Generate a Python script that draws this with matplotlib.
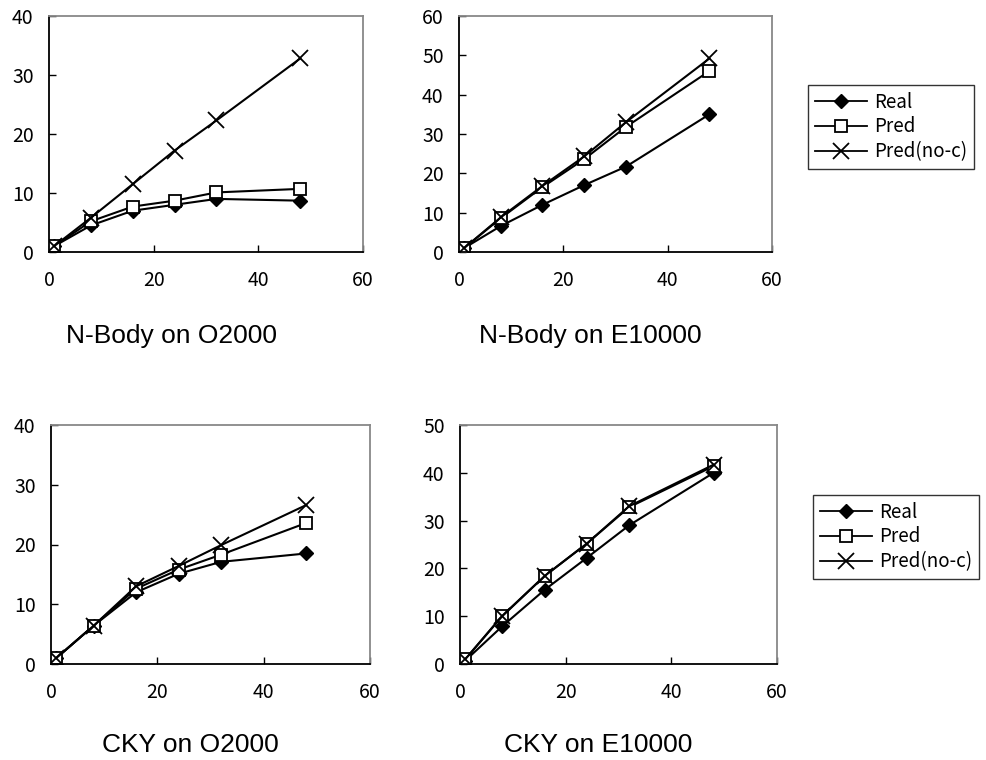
import matplotlib
matplotlib.use("Agg")
import matplotlib.pyplot as plt
from matplotlib.lines import Line2D

procs = [1, 8, 16, 24, 32, 48]

nbody_o2000_real = [1, 4.5, 7.0, 8.0, 9.0, 8.7]
nbody_o2000_pred = [1, 5.2, 7.7, 8.7, 10.1, 10.7]
nbody_o2000_noc = [1, 5.8, 11.5, 17.2, 22.3, 32.8]

nbody_e10000_real = [1, 6.6, 12.0, 17.0, 21.7, 35.0]
nbody_e10000_pred = [1, 8.6, 16.5, 23.6, 31.8, 46.0]
nbody_e10000_noc = [1, 8.8, 16.8, 24.3, 33.0, 49.2]

cky_o2000_real = [1, 6.4, 12.0, 15.1, 17.1, 18.5]
cky_o2000_pred = [1, 6.4, 12.6, 15.8, 18.3, 23.6]
cky_o2000_noc = [1, 6.4, 13.0, 16.4, 19.9, 26.6]

cky_e10000_real = [0.7, 7.9, 15.5, 22.2, 29.0, 40.0]
cky_e10000_pred = [1, 10.1, 18.4, 25.2, 32.8, 41.4]
cky_e10000_noc = [1, 10.0, 18.4, 25.2, 33.0, 41.7]

titles = ["N-Body on O2000", "N-Body on E10000", "CKY on O2000", "CKY on E10000"]
ymaxes = [40, 60, 40, 50]
series_names = ["Real", "Pred", "Pred(no-c)"]

panels = [
    (nbody_o2000_real, nbody_o2000_pred, nbody_o2000_noc),
    (nbody_e10000_real, nbody_e10000_pred, nbody_e10000_noc),
    (cky_o2000_real, cky_o2000_pred, cky_o2000_noc),
    (cky_e10000_real, cky_e10000_pred, cky_e10000_noc),
]

W, H = 987, 760
fig = plt.figure(figsize=(W / 100, H / 100), dpi=100)

# axes rectangles in pixels: (left, top, right, bottom)
rects = [(49, 16, 363, 252), (459, 16, 772, 252), (51, 425, 370, 664), (460, 425, 777, 664)]
title_pos = [(172, 336), (590, 336), (190, 745), (598, 745)]

tick_font = "Noto Sans CJK JP"
styles = [
    dict(marker="D", markersize=7, markerfacecolor="black", markeredgecolor="black"),
    dict(marker="s", markersize=8.5, markerfacecolor="white", markeredgecolor="black", markeredgewidth=1.3),
    dict(marker="x", markersize=11, markeredgecolor="black", markeredgewidth=1.3),
]

for i, (rect, data) in enumerate(zip(rects, panels)):
    l, t, r, b = rect
    ax = fig.add_axes([l / W, 1 - b / H, (r - l) / W, (b - t) / H])
    for vals, st, name in zip(data, styles, series_names):
        ax.plot(procs, vals, color="black", linewidth=1.5, label=name, **st)
    ax.set_xlim(0, 60)
    ax.set_ylim(0, ymaxes[i])
    ax.set_xticks([0, 20, 40, 60])
    ax.set_yticks(range(0, ymaxes[i] + 1, 10))
    ax.tick_params(direction="in", length=5, width=1, colors="black")
    ax.tick_params(axis="x", pad=13)
    ax.tick_params(axis="y", pad=11)
    for lab in ax.get_xticklabels() + ax.get_yticklabels():
        lab.set_fontfamily(tick_font)
        lab.set_fontsize(14)
    ax.spines["left"].set_color("black")
    ax.spines["bottom"].set_color("black")
    ax.spines["top"].set_color("#888888")
    ax.spines["right"].set_color("#888888")
    for s in ax.spines.values():
        s.set_linewidth(1.3)
    tx, ty = title_pos[i]
    fig.text(tx / W, 1 - ty / H, titles[i], ha="center", va="center",
             fontsize=19, family="Liberation Sans")

handles = [Line2D([0], [0], color="black", linewidth=1.3, **st) for st in styles]
for (lx, ly) in [(808, 85), (813, 495)]:
    fig.legend(handles, series_names, loc="upper left",
               bbox_to_anchor=(lx / W, 1 - ly / H),
               prop={"family": tick_font, "size": 13.5},
               frameon=True, fancybox=False, edgecolor="black",
               borderpad=0.35, labelspacing=0.2, handlelength=2.8, handletextpad=0.4,
               borderaxespad=0)

fig.savefig("out.png", dpi=100)
